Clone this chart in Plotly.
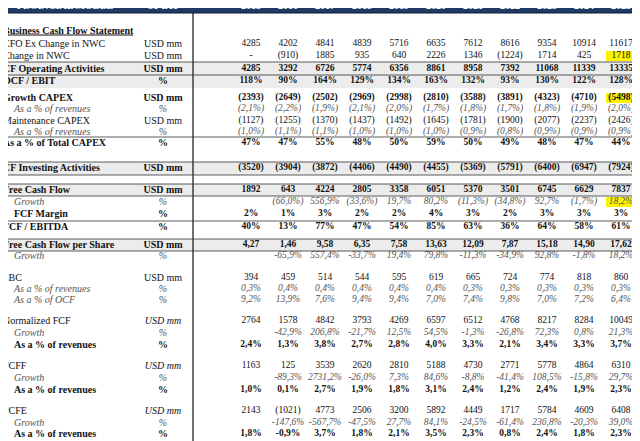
import plotly.graph_objects as go

years = ["2015", "2016", "2017", "2018", "2019", "2020", "2021", "2022", "2023", "2024", "2025"]

cfo_ex_nwc = ["4285", "4202", "4841", "4839", "5716", "6635", "7612", "8616", "9354", "10914", "11617"]
change_nwc = ["-", "(910)", "1885", "935", "640", "2226", "1346", "(1224)", "1714", "425", "1718"]
cf_operating = ["4285", "3292", "6726", "5774", "6356", "8861", "8958", "7392", "11068", "11339", "13335"]
ocf_ebit = ["118%", "90%", "164%", "129%", "134%", "163%", "132%", "93%", "130%", "122%", "128%"]
growth_capex = ["(2393)", "(2649)", "(2502)", "(2969)", "(2998)", "(2810)", "(3588)", "(3891)", "(4323)", "(4710)", "(5498)"]
growth_capex_rev = ["(2,1%)", "(2,2%)", "(1,9%)", "(2,1%)", "(2,0%)", "(1,7%)", "(1,8%)", "(1,7%)", "(1,8%)", "(1,9%)", "(2,0%)"]
maint_capex = ["(1127)", "(1255)", "(1370)", "(1437)", "(1492)", "(1645)", "(1781)", "(1900)", "(2077)", "(2237)", "(2426)"]
maint_capex_rev = ["(1,0%)", "(1,1%)", "(1,1%)", "(1,0%)", "(1,0%)", "(1,0%)", "(0,9%)", "(0,8%)", "(0,9%)", "(0,9%)", "(0,9%)"]
pct_total_capex = ["47%", "47%", "55%", "48%", "50%", "59%", "50%", "49%", "48%", "47%", "44%"]
cf_investing = ["(3520)", "(3904)", "(3872)", "(4406)", "(4490)", "(4455)", "(5369)", "(5791)", "(6400)", "(6947)", "(7924)"]
fcf = ["1892", "643", "4224", "2805", "3358", "6051", "5370", "3501", "6745", "6629", "7837"]
fcf_growth = ["", "(66,0%)", "556,9%", "(33,6%)", "19,7%", "80,2%", "(11,3%)", "(34,8%)", "92,7%", "(1,7%)", "18,2%"]
fcf_margin = ["2%", "1%", "3%", "2%", "2%", "4%", "3%", "2%", "3%", "3%", "3%"]
fcf_ebitda = ["40%", "13%", "77%", "47%", "54%", "85%", "63%", "36%", "64%", "58%", "61%"]
fcf_share = ["4,27", "1,46", "9,58", "6,35", "7,58", "13,63", "12,09", "7,87", "15,18", "14,90", "17,62"]
fcf_share_growth = ["", "-65,9%", "557,4%", "-33,7%", "19,4%", "79,8%", "-11,3%", "-34,9%", "92,8%", "-1,8%", "18,2%"]
sbc = ["394", "459", "514", "544", "595", "619", "665", "724", "774", "818", "860"]
sbc_rev = ["0,3%", "0,4%", "0,4%", "0,4%", "0,4%", "0,4%", "0,3%", "0,3%", "0,3%", "0,3%", "0,3%"]
sbc_ocf = ["9,2%", "13,9%", "7,6%", "9,4%", "9,4%", "7,0%", "7,4%", "9,8%", "7,0%", "7,2%", "6,4%"]
norm_fcf = ["2764", "1578", "4842", "3793", "4269", "6597", "6512", "4768", "8217", "8284", "10049"]
norm_fcf_growth = ["", "-42,9%", "206,8%", "-21,7%", "12,5%", "54,5%", "-1,3%", "-26,8%", "72,3%", "0,8%", "21,3%"]
norm_fcf_rev = ["2,4%", "1,3%", "3,8%", "2,7%", "2,8%", "4,0%", "3,3%", "2,1%", "3,4%", "3,3%", "3,7%"]
fcff = ["1163", "125", "3539", "2620", "2810", "5188", "4730", "2771", "5778", "4864", "6310"]
fcff_growth = ["", "-89,3%", "2731,2%", "-26,0%", "7,3%", "84,6%", "-8,8%", "-41,4%", "108,5%", "-15,8%", "29,7%"]
fcff_rev = ["1,0%", "0,1%", "2,7%", "1,9%", "1,8%", "3,1%", "2,4%", "1,2%", "2,4%", "1,9%", "2,3%"]
fcfe = ["2143", "(1021)", "4773", "2506", "3200", "5892", "4449", "1717", "5784", "4609", "6408"]
fcfe_growth = ["", "-147,6%", "-567,7%", "-47,5%", "27,7%", "84,1%", "-24,5%", "-61,4%", "236,8%", "-20,3%", "39,0%"]
fcfe_rev = ["1,8%", "-0,9%", "3,7%", "1,8%", "2,1%", "3,5%", "2,3%", "0,8%", "2,4%", "1,8%", "2,3%"]

# label, unit, values, style (n=normal, b=bold, i=italic sub-row), y centre
rows = [
    ("CFO Ex Change in NWC", "USD mm", cfo_ex_nwc, "n", 44),
    ("Change in NWC", "USD mm", change_nwc, "n", 56),
    ("CF Operating Activities", "USD mm", cf_operating, "b", 69),
    ("OCF / EBIT", "%", ocf_ebit, "b", 81),
    ("Growth CAPEX", "USD mm", growth_capex, "b", 98),
    ("As a % of revenues", "%", growth_capex_rev, "i", 109),
    ("Maintenance CAPEX", "USD mm", maint_capex, "n", 121),
    ("As a % of revenues", "%", maint_capex_rev, "i", 132),
    ("As a % of Total CAPEX", "%", pct_total_capex, "b", 143),
    ("CF Investing Activities", "USD mm", cf_investing, "b", 168),
    ("Free Cash Flow", "USD mm", fcf, "b", 190),
    ("Growth", "%", fcf_growth, "i", 202),
    ("FCF Margin", "%", fcf_margin, "bi", 214),
    ("FCF / EBITDA", "%", fcf_ebitda, "b", 227),
    ("Free Cash Flow per Share", "USD mm", fcf_share, "b", 245),
    ("Growth", "%", fcf_share_growth, "i", 256),
    ("SBC", "USD mm", sbc, "n", 278),
    ("As a % of revenues", "%", sbc_rev, "i", 289),
    ("As a % of OCF", "%", sbc_ocf, "i", 300),
    ("Normalized FCF", "USD mm", norm_fcf, "nu", 321),
    ("Growth", "%", norm_fcf_growth, "i", 333),
    ("As a % of revenues", "%", norm_fcf_rev, "bi", 345),
    ("FCFF", "USD mm", fcff, "nu", 366),
    ("Growth", "%", fcff_growth, "i", 378),
    ("As a % of revenues", "%", fcff_rev, "bi", 390),
    ("FCFE", "USD mm", fcfe, "nu", 411),
    ("Growth", "%", fcfe_growth, "i", 423),
    ("As a % of revenues", "%", fcfe_rev, "bi", 434),
]
highlights = [(1, 10), (4, 10), (11, 10)]

col_x = [251 + 37 * i for i in range(len(years))]
FONT = "Liberation Serif"
OFF = 8  # page body margin pushes the figure by 8px

fig = go.Figure()
shapes = [
    dict(type="rect", x0=0, x1=648, y0=0, y1=13, fillcolor="#1F3A64", line=dict(color="#0b1a33", width=1), layer="below"),
    dict(type="line", x0=193, x1=193, y0=13, y1=450, line=dict(color="#111", width=1.2)),
]
for y0, y1 in [(62, 88), (162, 175), (184, 196), (239, 251)]:
    shapes.append(dict(type="rect", x0=0, x1=632, y0=y0, y1=y1, fillcolor="#ECECEC", line_width=0, layer="below"))
for y in [62, 75, 137, 162, 175, 184, 196, 221, 239, 251]:
    shapes.append(dict(type="line", x0=0, x1=632, y0=y, y1=y, line=dict(color="#333", width=0.8)))
for r, c in highlights:
    y = rows[r][4]
    shapes.append(dict(type="rect", x0=col_x[c] - 15, x1=col_x[c] + 12, y0=y - 5, y1=y + 5,
                       fillcolor="#FFF200", line_width=0, layer="below"))

# header
fig.add_trace(go.Scatter(
    x=[65, 163] + col_x, y=[6.5] * (2 + len(years)), mode="text",
    text=["<b>FINANCIAL MODEL</b>", "<b>31-Dec</b>"] + [f"<b>{y}</b>" for y in years],
    textfont=dict(family=FONT, size=10, color="white"), hoverinfo="skip"))
fig.add_trace(go.Scatter(
    x=[3], y=[31], mode="text", textposition="middle right",
    text=["<b><u>Business Cash Flow Statement</u></b>"],
    textfont=dict(family=FONT, size=10, color="#111"), hoverinfo="skip"))

lx, ly, lt, lc = [], [], [], []
ux, uy, ut, uc = [], [], [], []
vx, vy, vt, vc = [], [], [], []
for label, unit, vals, style, y in rows:
    bold = "b" in style
    ital = "i" in style
    dark = "#111"
    grey = "#555"
    lab = label
    if bold:
        lab = f"<b>{lab}</b>"
    if ital and not bold:
        lab = f"<i>{lab}</i>"
    lx.append(14 if ital else 3); ly.append(y); lt.append(lab); lc.append(grey if (ital and not bold) else dark)
    u = f"<b>{unit}</b>" if bold else (f"<i>{unit}</i>" if (ital or "u" in style) else unit)
    ux.append(163); uy.append(y); ut.append(u); uc.append(grey if ital and not bold else dark)
    for i, v in enumerate(vals):
        t = f"<b>{v}</b>" if bold else (f"<i>{v}</i>" if ital else v)
        vx.append(col_x[i]); vy.append(y); vt.append(t); vc.append(grey if ital and not bold else dark)

fig.add_trace(go.Scatter(x=lx, y=ly, text=lt, mode="text", textposition="middle right",
                         textfont=dict(family=FONT, size=10, color=lc), hoverinfo="skip"))
fig.add_trace(go.Scatter(x=ux, y=uy, text=ut, mode="text",
                         textfont=dict(family=FONT, size=10, color=uc), hoverinfo="skip"))
fig.add_trace(go.Scatter(x=vx, y=vy, text=vt, mode="text",
                         textfont=dict(family=FONT, size=9.5, color=vc), hoverinfo="skip"))

fig.update_layout(
    width=640, height=441, margin=dict(l=0, r=0, t=0, b=0),
    paper_bgcolor="white", plot_bgcolor="white", showlegend=False, shapes=shapes,
    xaxis=dict(range=[OFF, 640 + OFF], visible=False, fixedrange=True),
    yaxis=dict(range=[441 + OFF, OFF], visible=False, fixedrange=True),
)
fig.write_html("out.html", config={"displayModeBar": False})
